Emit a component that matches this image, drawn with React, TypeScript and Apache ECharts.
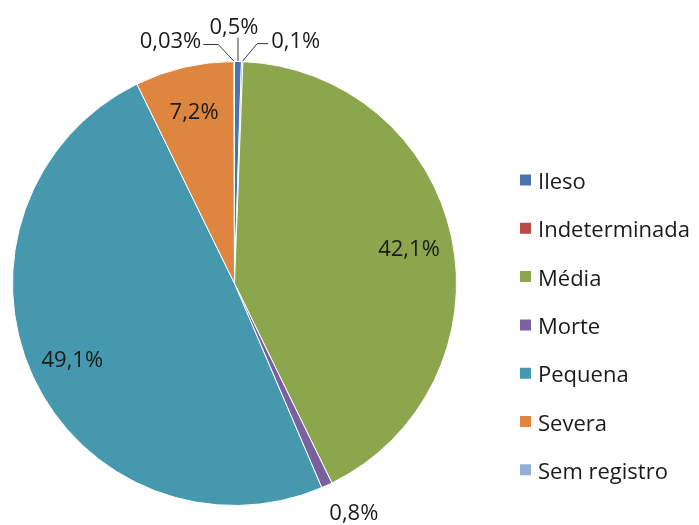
import React, { useEffect, useRef } from "react";
import * as echarts from "echarts";

const categories = ["Ileso", "Indeterminada", "Média", "Morte", "Pequena", "Severa", "Sem registro"];
const values = [0.5, 0.1, 42.1, 0.8, 49.1, 7.2, 0.03];
const palette = ["#4A73B0", "#B84B48", "#8CA64E", "#7A609E", "#4698AE", "#DE8640", "#93AED3"];
const outsideLabels = ["Ileso", "Indeterminada", "Morte", "Sem registro"];

const FONT = "Open Sans";
const FS = 22;
const R = 222;
const CENTER = [234.5, 283.5];

const fmt = (v: number) => String(v).replace(".", ",") + "%";

export default function App() {
  const ref = useRef<HTMLDivElement>(null);
  useEffect(() => {
    if (!ref.current) return;
    const chart = echarts.init(ref.current, undefined, { renderer: "svg" });
    const mainData = categories.map((name, i) => {
      const outside = outsideLabels.includes(name);
      return {
        name,
        value: values[i],
        label: { show: outside },
        labelLine: {
          show: outside,
          lineStyle: name === "Morte" ? { opacity: 0 } : undefined,
        },
      };
    });
    const innerData = categories.map((name, i) => ({
      name,
      value: values[i],
      label: { show: !outsideLabels.includes(name) },
    }));
    chart.setOption({
      animation: false,
      color: palette,
      legend: {
        orient: "vertical",
        left: 518,
        top: 169,
        padding: 0,
        itemWidth: 13,
        itemHeight: 13,
        itemGap: 26.3,
        icon: "rect",
        textStyle: { fontFamily: FONT, fontSize: FS, color: "#1a1a1a", lineHeight: 22, padding: [0, 0, 0, 1] },
        data: categories,
        selectedMode: false,
      },
      series: [
        {
          type: "pie",
          radius: R,
          center: CENTER,
          startAngle: 90,
          clockwise: true,
          avoidLabelOverlap: false,
          silent: true,
          itemStyle: { borderColor: "#ffffff", borderWidth: 1 },
          label: {
            position: "outside",
            formatter: (p: any) => fmt(p.value),
            fontFamily: FONT,
            fontSize: FS,
            lineHeight: 20,
            color: "#1a1a1a",
          },
          labelLine: { length: 15, length2: 10, lineStyle: { color: "#3a3a3a", width: 1 } },
          labelLayout: (p: any) => {
            const pts = p.labelLinePoints;
            if (!pts) return {};
            const [x0, y0] = pts[0];
            const name = categories[p.dataIndex];
            if (name === "Ileso") {
              return {
                x: x0 - 4, y: y0 - 37, align: "center", verticalAlign: "middle",
                labelLinePoints: [[x0, y0], [x0, y0 - 12], [x0, y0 - 24]],
              };
            }
            if (name === "Indeterminada") {
              return {
                x: x0 + 29, y: y0 - 23, align: "left", verticalAlign: "middle",
                labelLinePoints: [[x0, y0], [x0 + 15, y0 - 18], [x0 + 26, y0 - 18]],
              };
            }
            if (name === "Sem registro") {
              return {
                x: x0 - 33, y: y0 - 23, align: "right", verticalAlign: "middle",
                labelLinePoints: [[x0, y0], [x0 - 16, y0 - 17], [x0 - 31, y0 - 17]],
              };
            }
            if (name === "Morte") {
              return {
                x: x0 + 27, y: y0 + 26, align: "center", verticalAlign: "middle",
                labelLinePoints: [[x0, y0], [x0, y0], [x0, y0]],
              };
            }
            return {};
          },
          data: mainData,
        },
        {
          type: "pie",
          radius: [R * 0.58, R],
          center: CENTER,
          startAngle: 90,
          clockwise: true,
          avoidLabelOverlap: false,
          silent: true,
          legendHoverLink: false,
          itemStyle: { color: "transparent", borderWidth: 0 },
          emphasis: { disabled: true },
          label: {
            position: "inside",
            formatter: (p: any) => fmt(p.value),
            fontFamily: FONT,
            fontSize: FS,
            color: "#1a1a1a",
          },
          labelLine: { show: false },
          data: innerData,
        },
      ],
    });
    return () => chart.dispose();
  }, []);
  return <div ref={ref} style={{ position: "fixed", left: 0, top: 0, width: 699, height: 525 }} />;
}
